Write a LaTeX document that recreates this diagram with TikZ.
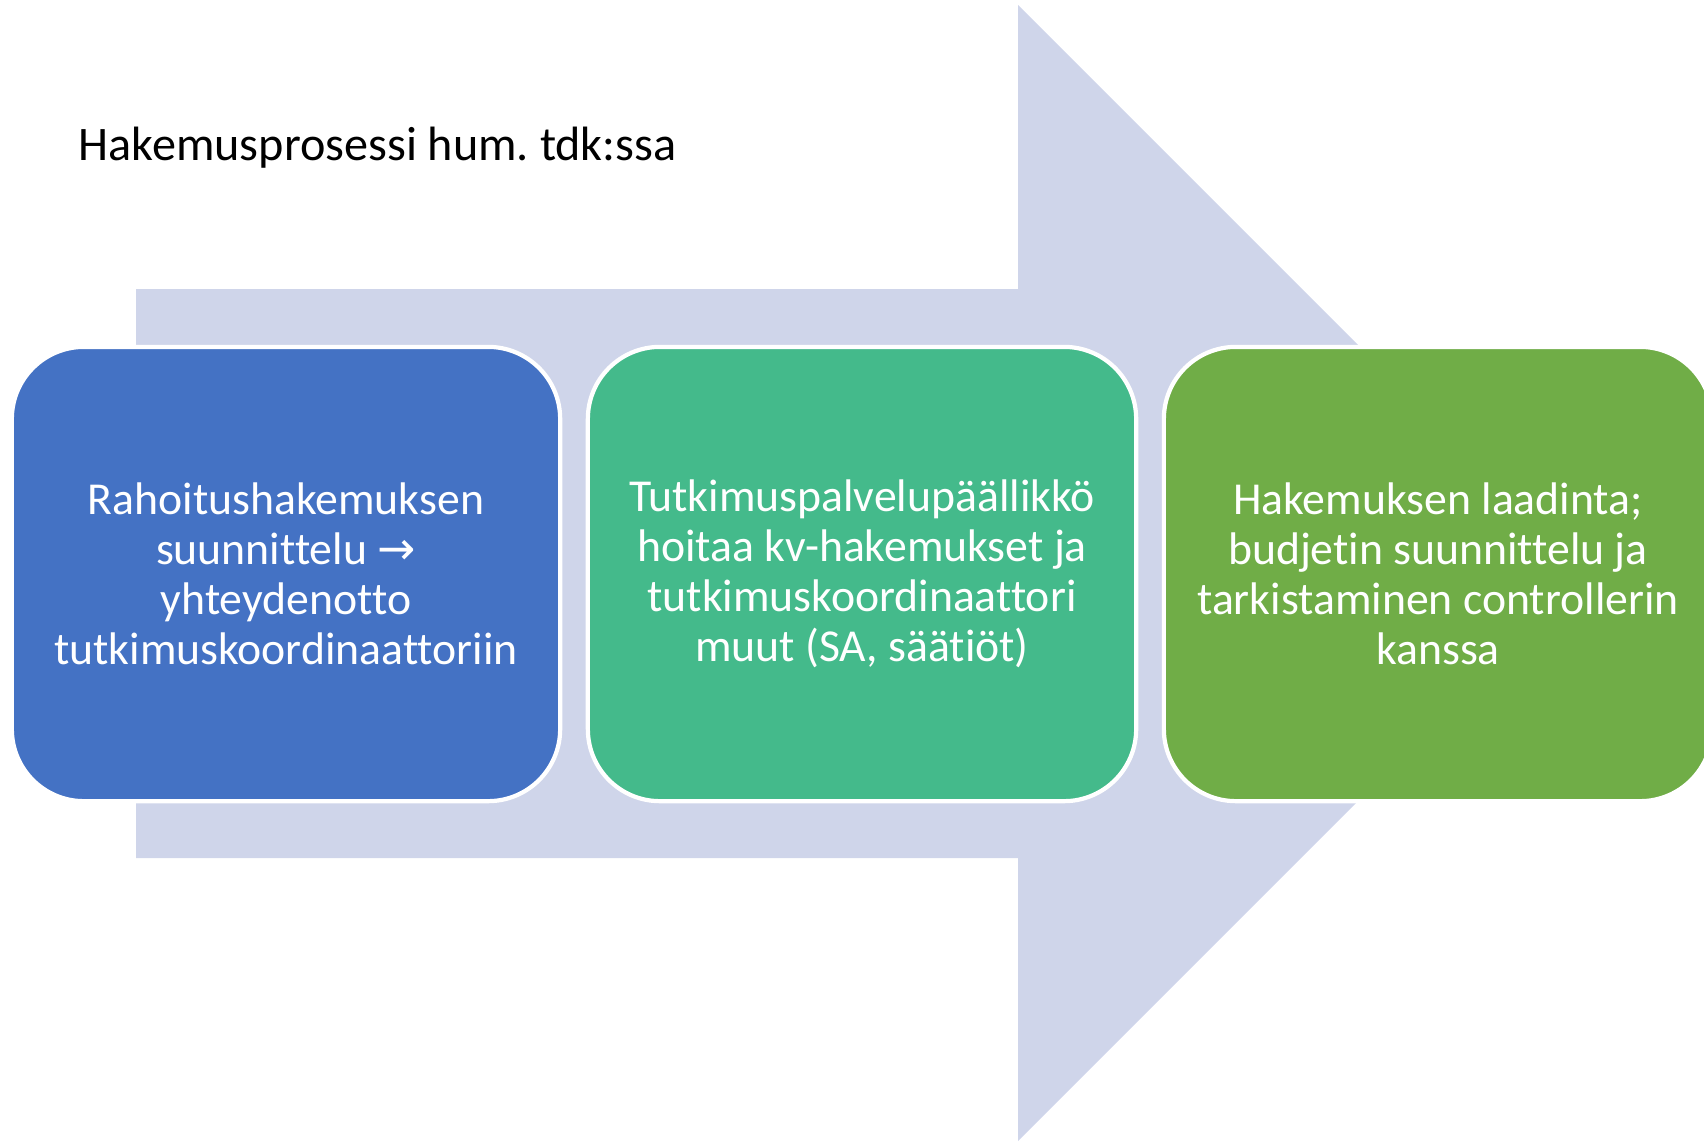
\documentclass[tikz,border=0pt]{standalone}
\usepackage{fontspec}
\setmainfont[Ligatures=NoCommon]{Carlito}
\newfontfamily\symfont{DejaVu Sans}
\frenchspacing
\definecolor{arrowfill}{HTML}{CFD5EA}
\definecolor{boxblue}{HTML}{4472C4}
\definecolor{boxteal}{HTML}{44BA8B}
\definecolor{boxgreen}{HTML}{70AD47}
\begin{document}
\begin{tikzpicture}[x=0.01cm,y=-0.01cm,
  stepbox/.style={draw=white,line width=1.2pt,rounded corners=0.72cm,text=white,
    minimum width=5.48cm,minimum height=4.54cm,align=center,inner sep=0pt,
    font=\fontsize{13}{14.2}\selectfont}]
\useasboundingbox (0,0) rectangle (1704,1141);
\begin{scope}
\clip (0,0) rectangle (1704,1141);
\fill[arrowfill] (136,289) -- (1018,289) -- (1018,5) -- (1586,573) -- (1018,1141) -- (1018,858) -- (136,858) -- cycle;
\node[anchor=base west,inner sep=0pt,font=\fontsize{13.7}{16}\selectfont] (title) at (78,160) {Hakemusprosessi hum. tdk:ssa};
\node[stepbox,fill=boxblue] (b1) at (286,574) {Rahoitushakemuksen\\suunnittelu {\symfont →}\\yhteydenotto\\tutkimuskoordinaattoriin};
\node[stepbox,fill=boxteal] (b2) at (862,574) {Tutkimuspalvelupäällikkö\\hoitaa kv-hakemukset ja\\tutkimuskoordinaattori\\muut (SA, säätiöt)};
\node[stepbox,fill=boxgreen] (b3) at (1438,574) {Hakemuksen laadinta;\\budjetin suunnittelu ja\\tarkistaminen controllerin\\kanssa};
\end{scope}
\end{tikzpicture}
\end{document}
